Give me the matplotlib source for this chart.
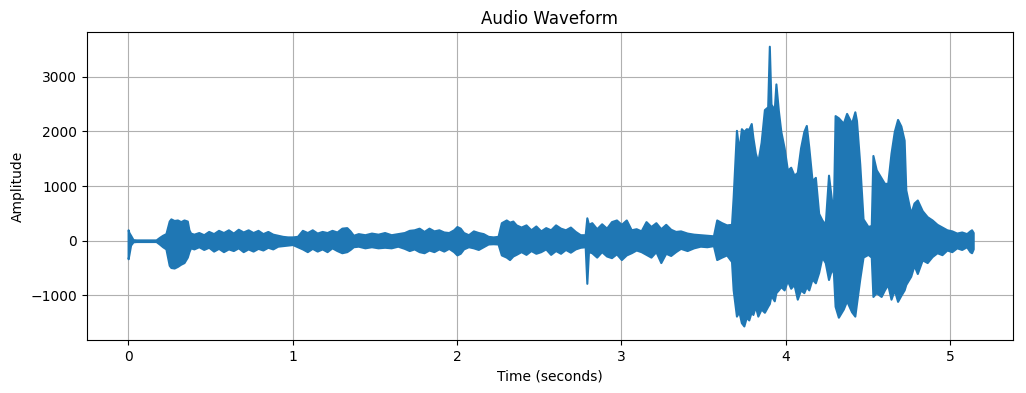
import numpy as np
import matplotlib
matplotlib.use('Agg')
import matplotlib.pyplot as plt

# envelope of the waveform: time (s), upper and lower amplitude
time_s = [0.000, 0.005, 0.015, 0.03, 0.05, 0.10, 0.17, 0.19, 0.21, 0.23,
          0.25, 0.26, 0.28, 0.30, 0.32, 0.34, 0.36, 0.37, 0.38, 0.40,
          0.43, 0.46, 0.49, 0.52, 0.55, 0.58, 0.61, 0.64, 0.67, 0.70,
          0.73, 0.76, 0.79, 0.82, 0.85, 0.88, 0.91, 0.94, 0.97, 1.00,
          1.03, 1.06, 1.09, 1.12, 1.15, 1.18, 1.21, 1.24, 1.27, 1.30,
          1.33, 1.35, 1.37, 1.40, 1.44, 1.48, 1.52, 1.56, 1.60, 1.64,
          1.68, 1.71, 1.74, 1.77, 1.80, 1.83, 1.86, 1.89, 1.92, 1.95,
          1.98, 2.00, 2.02, 2.04, 2.07, 2.10, 2.13, 2.16, 2.19, 2.22,
          2.25, 2.27, 2.30, 2.32, 2.34, 2.36, 2.39, 2.42, 2.45, 2.48,
          2.51, 2.54, 2.57, 2.60, 2.63, 2.66, 2.69, 2.72, 2.75, 2.78,
          2.79, 2.80, 2.82, 2.85, 2.88, 2.91, 2.94, 2.97, 3.00, 3.03,
          3.06, 3.09, 3.12, 3.15, 3.18, 3.21, 3.24, 3.27, 3.30, 3.33,
          3.36, 3.40, 3.44, 3.48, 3.52, 3.56, 3.58, 3.61, 3.64, 3.67,
          3.68, 3.70, 3.715, 3.73, 3.745, 3.76, 3.775, 3.79, 3.80, 3.815,
          3.83, 3.85, 3.87, 3.89, 3.90, 3.91, 3.93, 3.94, 3.955, 3.97,
          3.99, 4.01, 4.03, 4.05, 4.07, 4.09, 4.11, 4.125, 4.14, 4.16,
          4.18, 4.20, 4.22, 4.24, 4.26, 4.28, 4.29, 4.30, 4.32, 4.35,
          4.37, 4.40, 4.42, 4.43, 4.45, 4.47, 4.50, 4.52, 4.53, 4.55,
          4.58, 4.60, 4.62, 4.64, 4.66, 4.68, 4.70, 4.72, 4.73, 4.76,
          4.78, 4.80, 4.83, 4.86, 4.89, 4.92, 4.95, 4.98, 5.01, 5.04,
          5.07, 5.10, 5.12, 5.13, 5.14]

upper = [200, 150, 100, 20, 15, 15, 15, 60, 100, 130,
         360, 400, 370, 380, 350, 380, 360, 200, 140, 120,
         150, 110, 170, 130, 190, 150, 200, 140, 210, 160,
         200, 150, 190, 130, 170, 120, 100, 80, 70, 70,
         80, 190, 150, 200, 140, 170, 150, 190, 160, 230,
         240, 180, 100, 130, 110, 140, 120, 150, 110, 130,
         150, 190, 200, 230, 170, 230, 180, 200, 160, 150,
         200, 260, 230, 150, 110, 180, 150, 130, 80, 70,
         80, 330, 380, 340, 360, 290, 250, 290, 200, 270,
         180, 240, 200, 290, 230, 200, 250, 170, 110, 110,
         420, 300, 330, 220, 310, 230, 350, 380, 300, 380,
         200, 220, 180, 350, 260, 330, 220, 300, 210, 170,
         180, 140, 120, 110, 100, 90, 380, 330, 290, 300,
         800, 2020, 1650, 2050, 2000, 2050, 2040, 2145, 1890, 1600,
         1450, 1800, 2400, 2450, 3560, 2500, 2400, 2870, 2380, 2000,
         1700, 1290, 1345, 1200, 1250, 1700, 2000, 2110, 1710, 1100,
         1160, 500, 380, 300, 1200, 700, 600, 2290, 2250, 2150,
         2330, 2150, 2360, 2200, 1400, 400, 260, 280, 1560, 1300,
         1150, 1050, 1050, 1600, 2000, 2220, 2100, 1840, 930, 500,
         690, 745, 550, 440, 380, 300, 250, 200, 180, 140,
         160, 130, 180, 200, 150]

lower = [-330, -250, -80, -20, -15, -15, -15, -60, -110, -150,
         -450, -490, -500, -470, -430, -400, -300, -200, -130, -150,
         -110, -160, -120, -190, -140, -200, -150, -180, -130, -200,
         -150, -190, -140, -170, -120, -150, -100, -90, -80, -70,
         -110, -150, -200, -140, -190, -150, -200, -130, -180, -220,
         -200, -160, -110, -100, -130, -110, -130, -120, -130, -100,
         -140, -180, -150, -200, -220, -170, -200, -150, -190, -140,
         -200, -260, -230, -150, -110, -130, -160, -110, -60, -55,
         -60, -260, -300, -345, -280, -250, -200, -250, -180, -230,
         -200, -150, -250, -180, -230, -160, -210, -150, -120, -110,
         -780, -200, -220, -300, -200, -280, -310, -240, -345, -260,
         -220, -170, -200, -250, -300, -200, -400, -230, -270, -200,
         -140, -180, -130, -100, -110, -90, -345, -300, -260, -380,
         -900, -1380, -1300, -1500, -1560, -1400, -1450, -1300, -1350, -1200,
         -1380, -1250, -1310, -1200, -1150, -1000, -1100, -950, -900, -840,
         -900, -730, -870, -800, -1070, -900, -950, -840, -900, -700,
         -770, -580, -300, -400, -710, -500, -600, -1200, -1400, -1250,
         -1100, -1300, -1380, -1150, -700, -300, -250, -300, -1020, -950,
         -1020, -900, -800, -1070, -900, -1110, -1000, -900, -800, -650,
         -450, -600, -350, -400, -290, -220, -255, -170, -200, -130,
         -160, -110, -200, -220, -150]

fig = plt.figure(figsize=(10.26, 3.93), dpi=100)
ax = fig.add_subplot(111)
fig.subplots_adjust(left=0.0848, right=0.987, bottom=0.135, top=0.918)

ax.fill_between(time_s, lower, upper, color='#1f77b4', edgecolor='#1f77b4',
                linewidth=1.5, zorder=2)
ax.set_xlim(-0.25, 5.38)
ax.margins(y=0.05)
ax.set_title('Audio Waveform')
ax.set_xlabel('Time (seconds)')
ax.set_ylabel('Amplitude')
ax.grid(True)

fig.savefig('out.png', dpi=100)
